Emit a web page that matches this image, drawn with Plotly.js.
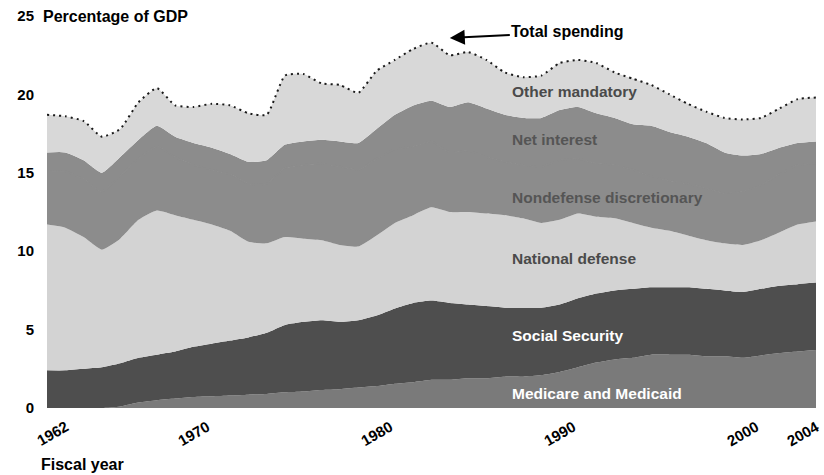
<!DOCTYPE html>
<html>
<head>
<meta charset="utf-8">
<script src="https://cdn.plot.ly/plotly-3.0.1.min.js"></script>
<style>html,body{margin:0;padding:0;background:#fff;}#chart{width:824px;height:475px;}</style>
</head>
<body>
<div id="chart"></div>
<script>
const years = [1962,1963,1964,1965,1966,1967,1968,1969,1970,1971,
  1972,1973,1974,1975,1976,1977,1978,1979,1980,1981,
  1982,1983,1984,1985,1986,1987,1988,1989,1990,1991,
  1992,1993,1994,1995,1996,1997,1998,1999,2000,2001,
  2002,2003,2004];
const medicareMedicaid = [0,0,0,0,0.1,0.35,0.5,0.6,0.7,0.75,
  0.8,0.85,0.9,1.0,1.05,1.15,1.2,1.3,1.4,1.55,
  1.65,1.8,1.8,1.9,1.9,2.0,2.0,2.1,2.3,2.6,
  2.9,3.1,3.2,3.4,3.4,3.4,3.3,3.3,3.2,3.35,
  3.5,3.6,3.7];
const socialSecurity = [2.4,2.4,2.5,2.6,2.75,2.85,2.9,3.0,3.2,3.35,
  3.5,3.65,3.9,4.3,4.45,4.45,4.3,4.3,4.5,4.8,
  5.05,5.05,4.9,4.7,4.6,4.4,4.4,4.3,4.3,4.4,
  4.4,4.4,4.4,4.3,4.3,4.3,4.3,4.2,4.2,4.25,
  4.3,4.3,4.3];
const nationalDefense = [9.3,9.1,8.4,7.5,7.95,8.8,9.2,8.7,8.1,7.6,
  7.0,6.1,5.7,5.6,5.3,5.1,4.9,4.7,5.1,5.45,
  5.6,5.95,5.8,5.9,5.9,5.9,5.7,5.4,5.4,5.4,
  4.9,4.6,4.2,3.8,3.6,3.3,3.1,3.0,3.0,3.1,
  3.4,3.8,3.9];
const nondefenseDiscretionary = [3.4,3.6,3.7,3.7,4.0,3.9,4.1,3.7,3.5,3.5,
  3.6,3.7,3.8,4.4,4.7,4.9,5.0,4.9,4.9,4.7,
  4.4,4.2,3.8,3.9,3.6,3.4,3.4,3.6,3.8,3.5,
  3.4,3.4,3.4,3.3,3.2,3.3,3.3,3.2,3.4,3.5,
  3.7,3.8,3.7];
const netInterest = [1.2,1.2,1.2,1.2,1.2,1.2,1.3,1.3,1.4,1.4,
  1.3,1.4,1.5,1.5,1.5,1.5,1.6,1.7,1.9,2.2,
  2.6,2.6,2.9,3.1,3.1,3.0,3.0,3.1,3.2,3.3,
  3.2,3.0,2.9,3.2,3.1,3.0,2.9,2.6,2.3,2.0,
  1.7,1.4,1.4];
const otherMandatory = [2.4,2.3,2.5,2.3,1.8,2.4,2.4,2.0,2.3,2.8,
  3.1,3.1,2.9,4.4,4.3,3.6,3.6,3.2,3.7,3.5,
  3.6,3.7,3.3,3.2,3.1,2.7,2.6,2.7,3.0,3.0,
  3.2,2.9,2.9,2.6,2.4,2.1,2.0,2.2,2.3,2.3,
  2.5,2.8,2.8];
const seriesNames = ['Medicare and Medicaid','Social Security','National defense','Nondefense discretionary','Net interest','Other mandatory'];
const xTickYears = [1962,1970,1980,1990,2000,2004];
const yTickValues = [0,5,10,15,20,25];

const FONT = 'Liberation Sans, Arial, Helvetica, sans-serif';
const fills = ['#7a7a7a','#4e4e4e','#d3d3d3','#8c8c8c','#8c8c8c','#d8d8d8'];
const seriesData = [medicareMedicaid, socialSecurity, nationalDefense, nondefenseDiscretionary, netInterest, otherMandatory];

const traces = seriesData.map((vals, i) => {
  let line = {width:0, shape:'spline', smoothing:0.5};
  if (i === 5) line = {color:'#1a1a1a', width:2, dash:'2px,4px', shape:'spline', smoothing:0.5};
  if (i === 3) line = {color:fills[3], width:1.5, shape:'spline', smoothing:0.5};
  return {
    type: 'scatter', mode: 'lines', x: years, y: vals, name: seriesNames[i],
    stackgroup: 'spend', fillcolor: fills[i], line: line, hoverinfo: 'skip'
  };
});

// label positions (year, value) for in-chart labels
const labelYear = 1987.3;
const labelValues = [0.95, 4.6, 9.55, 13.4, 17.1, 20.2];
const labelColors = ['#ffffff','#ffffff','#4a4a4a','#555555','#555555','#4a4a4a'];

const annotations = [];
seriesNames.forEach((n, i) => {
  annotations.push({x: labelYear, y: labelValues[i], xref:'x', yref:'y', xanchor:'left', yanchor:'middle',
    text: n, showarrow:false, font:{family:FONT, size:15.5, weight:'bold', color: labelColors[i]}});
});
xTickYears.forEach((yr, i) => {
  let shift = 0;
  if (i === 0) shift = 5;
  if (i === xTickYears.length - 1) shift = -13;
  annotations.push({x: yr, y: -0.018, xref:'x', yref:'paper', xanchor:'center', yanchor:'top',
    text: String(yr), textangle: -30, showarrow:false, xshift: shift,
    font:{family:FONT, size:15, weight:'bold', color:'#000'}});
});
annotations.push({x: 0, y: -0.143, xref:'paper', yref:'paper', xanchor:'left', yanchor:'middle', xshift:-8,
  text:'Fiscal year', showarrow:false, font:{family:FONT, size:16, weight:'bold', color:'#000'}});
annotations.push({x: 0, y: 25, xref:'paper', yref:'y', xanchor:'left', yanchor:'middle', xshift:-6,
  text:'Percentage of GDP', showarrow:false, font:{family:FONT, size:16, weight:'bold', color:'#000'}});
annotations.push({x: 1984.0, y: 23.6, xref:'x', yref:'y', text:'Total spending', showarrow:true,
  arrowhead:2, arrowsize:1.5, arrowwidth:2, arrowcolor:'#000', ax:118, ay:-6,
  font:{family:FONT, size:16, weight:'bold', color:'#000'}});

const layout = {
  width: 824, height: 475,
  margin: {l:47, r:8, t:16, b:67},
  paper_bgcolor:'#ffffff', plot_bgcolor:'#ffffff',
  showlegend:false,
  font:{family:FONT, size:15, color:'#000'},
  xaxis:{range:[1962,2004], showticklabels:false, showgrid:false, zeroline:false, showline:false, ticks:''},
  yaxis:{range:[0,25], tickvals:yTickValues, ticktext:yTickValues.map(String), showgrid:false, zeroline:false,
    showline:false, ticks:'', ticklabelstandoff:12,
    tickfont:{family:FONT, size:15, weight:'bold', color:'#000'}},
  annotations: annotations
};

Plotly.newPlot('chart', traces, layout, {staticPlot:true, displayModeBar:false});
</script>
</body>
</html>
